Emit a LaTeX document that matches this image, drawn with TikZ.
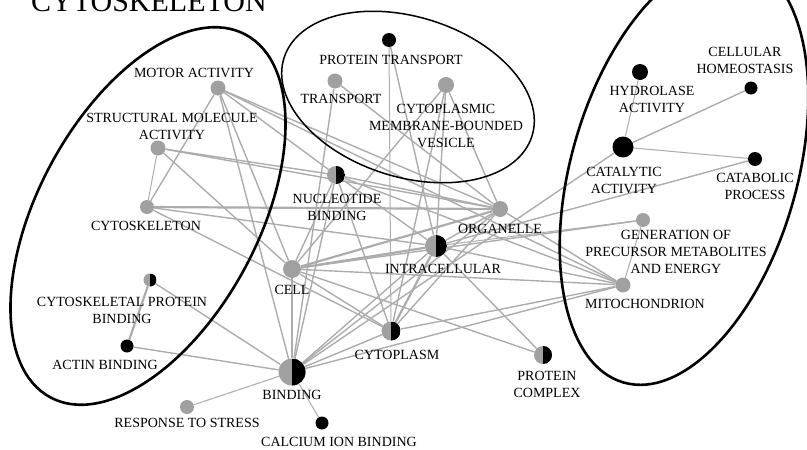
\documentclass[tikz,border=0pt]{standalone}
\usepackage{fontspec}
\setmainfont{Liberation Serif}
\usetikzlibrary{backgrounds}
\definecolor{ng}{RGB}{160,160,160}
\definecolor{eg}{RGB}{172,172,172}
\begin{document}
\begin{tikzpicture}[x=1pt,y=-1pt,
  dot/.style={circle,inner sep=0pt,minimum size=#1},
  gn/.style={dot=#1,fill=ng},
  bn/.style={dot=#1,fill=black},
  hn/.style={dot=#1,fill=ng,path picture={\fill[black] (path picture bounding box.north) rectangle (path picture bounding box.south east);}},
  lab/.style={font=\fontsize{14}{17}\selectfont, align=center, inner sep=0pt, anchor=base},
  ed/.style={draw=eg,line width=1.4pt},
  et/.style={draw=eg,line width=1pt},
  ek/.style={draw=eg,line width=2.2pt},
  ring/.style={draw=black,line width=2.6pt}]
\useasboundingbox (0,0) rectangle (807,450);
% title
\node[font=\fontsize{30}{30}\selectfont, anchor=base west, inner sep=0pt] (title) at (31,11) {CYTOSKELETON};
% group ellipses
\draw[ring, rotate around={61.7:(148,216)}] (148,216) ellipse [x radius=206, y radius=110];
\draw[draw=black, line width=1.5pt, rotate around={-17.5:(408,97)}] (408,97) ellipse [x radius=130, y radius=80];
\draw[ring, rotate around={74:(684,172)}] (684,172) ellipse [x radius=219, y radius=113];
% nodes
\node[gn=15pt] (ma) at (218,88) {};
\node[gn=15pt] (sm) at (158,148) {};
\node[gn=14pt] (cs) at (147,207) {};
\node[hn=13pt] (cpb) at (150,280) {};
\node[bn=13pt] (ab) at (127,346) {};
\node[gn=18pt] (ce) at (292,269) {};
\node[hn=27pt] (bi) at (292,372) {};
\node[gn=14pt] (rs) at (187,407) {};
\node[bn=13pt] (ca) at (322,423) {};
\node[hn=18pt] (nb) at (336,175) {};
\node[gn=15pt] (tr) at (335,81) {};
\node[bn=14pt] (pt) at (389,40) {};
\node[gn=16pt] (ve) at (446,85) {};
\node[gn=16pt] (or) at (500,209) {};
\node[hn=22pt] (ic) at (436,246) {};
\node[hn=19pt] (cy) at (391,331) {};
\node[hn=18pt] (pc) at (543,355) {};
\node[gn=15pt] (mi) at (623,285) {};
\node[gn=14pt] (ge) at (643,220) {};
\node[bn=21pt] (cat) at (623,147) {};
\node[bn=16pt] (hy) at (640,72) {};
\node[bn=13pt] (ho) at (751,88) {};
\node[bn=14pt] (cb) at (755,159) {};
% edges
\begin{scope}[on background layer]
\foreach \a/\b in {ma/cs,ma/ce,ma/bi,ma/nb,ma/or,ma/mi,
  sm/nb,sm/or,sm/ce,cs/ic,cs/cy,
  cpb/bi,ab/bi,
  ce/nb,ce/mi,ce/cy,ce/pc,ce/ve,ce/ge,
  bi/nb,bi/ic,bi/or,bi/cy,bi/mi,bi/cat,bi/tr,
  nb/ic,nb/or,nb/cy,nb/mi,
  tr/or,pt/ic,ve/cy,ve/ic,ve/or,
  or/ic,or/cy,or/mi,
  ic/pc,ic/mi,ic/cb,cy/mi,cat/ho}
  \draw[ed] (\a) -- (\b);
\foreach \a/\b in {sm/cs,rs/bi,ca/bi,pt/cy,ic/ge,ge/mi,cat/hy,cat/cb}
  \draw[et] (\a) -- (\b);
\foreach \a/\b in {cs/or,ce/or,ce/ic,cpb/ab,ce/bi,ic/cy}
  \draw[ek] (\a) -- (\b);
\end{scope}
% labels (anchor = baseline of the last line)
\node[lab] (ma-l) at (194,77) {MOTOR ACTIVITY};
\node[lab] (sm-l) at (172,139) {STRUCTURAL MOLECULE\\ACTIVITY};
\node[lab] (cs-l) at (146,230) {CYTOSKELETON};
\node[lab] (cpb-l) at (122,323) {CYTOSKELETAL PROTEIN\\BINDING};
\node[lab] (ab-l) at (105,369) {ACTIN BINDING};
\node[lab] (ce-l) at (292,294) {CELL};
\node[lab] (bi-l) at (292,399) {BINDING};
\node[lab] (rs-l) at (187,427) {RESPONSE TO STRESS};
\node[lab] (ca-l) at (339,446) {CALCIUM ION BINDING};
\node[lab] (nb-l) at (337,220) {NUCLEOTIDE\\BINDING};
\node[lab] (tr-l) at (341,103) {TRANSPORT};
\node[lab] (pt-l) at (391,64) {PROTEIN TRANSPORT};
\node[lab] (ve-l) at (446,147) {CYTOPLASMIC\\MEMBRANE-BOUNDED\\VESICLE};
\node[lab] (or-l) at (500,233) {ORGANELLE};
\node[lab] (ic-l) at (443,273) {INTRACELLULAR};
\node[lab] (cy-l) at (397,359) {CYTOPLASM};
\node[lab] (pc-l) at (547,397) {PROTEIN\\COMPLEX};
\node[lab] (mi-l) at (645,308) {MITOCHONDRION};
\node[lab] (ge-l) at (676,273) {GENERATION OF\\PRECURSOR METABOLITES\\AND ENERGY};
\node[lab] (cat-l) at (624,193) {CATALYTIC\\ACTIVITY};
\node[lab] (hy-l) at (652,112) {HYDROLASE\\ACTIVITY};
\node[lab] (ho-l) at (745,73) {CELLULAR\\HOMEOSTASIS};
\node[lab] (cb-l) at (755,199) {CATABOLIC\\PROCESS};
\end{tikzpicture}
\end{document}
